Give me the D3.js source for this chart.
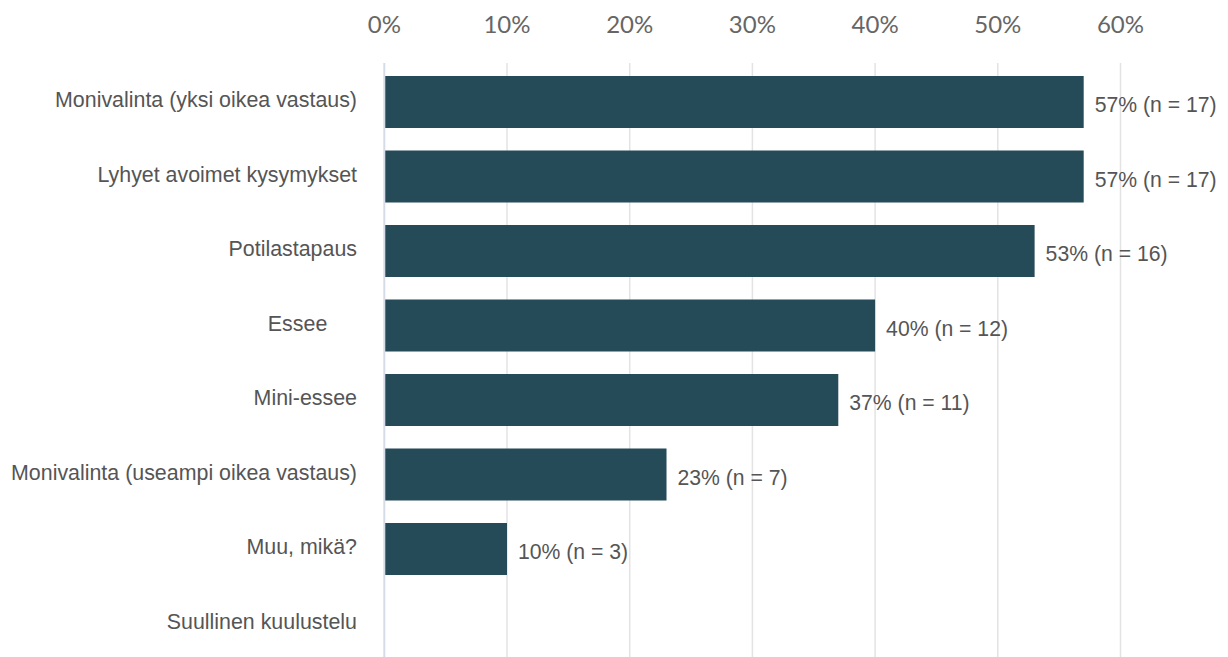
<!DOCTYPE html>
<html>
<head>
<meta charset="utf-8">
<script src="https://cdn.jsdelivr.net/npm/d3@7"></script>
<style>
  html, body { margin: 0; padding: 0; background: #fff; }
  svg { display: block; }
</style>
</head>
<body>
<div id="chart"></div>
<script>
// Data
const categories = [
  'Monivalinta (yksi oikea vastaus)',
  'Lyhyet avoimet kysymykset',
  'Potilastapaus',
  'Essee     ',
  'Mini-essee',
  'Monivalinta (useampi oikea vastaus)',
  'Muu, mikä?',
  'Suullinen kuulustelu'
];
const percents = [57, 57, 53, 40, 37, 23, 10, 0];
const counts = [17, 17, 16, 12, 11, 7, 3, 0];
const ticks = [0, 10, 20, 30, 40, 50, 60];

const width = 1228, height = 657;

const svg = d3.select('#chart').append('svg')
  .attr('width', width)
  .attr('height', height);

const x = d3.scaleLinear().domain([0, 60]).range([384.3, 1120.5]);

const step = 74.5;
const y = d3.scaleBand()
  .domain(categories)
  .range([64.75, 64.75 + step * categories.length])
  .paddingInner(0.302)
  .paddingOuter(0.151);

// gridlines
svg.append('g').selectAll('line')
  .data(ticks.filter(t => t > 0))
  .enter().append('line')
  .attr('x1', d => x(d)).attr('x2', d => x(d))
  .attr('y1', 63).attr('y2', height)
  .style('stroke', '#e3e3e3')
  .style('stroke-width', 1.5);

// top tick labels
svg.append('g').selectAll('text')
  .data(ticks)
  .enter().append('text')
  .attr('x', d => x(d))
  .attr('y', 33)
  .attr('text-anchor', 'middle')
  .style('font-family', 'Lato, sans-serif')
  .style('font-size', '24px')
  .style('fill', '#666')
  .text(d => d + '%');

// bars
svg.append('g').selectAll('rect')
  .data(categories)
  .enter().append('rect')
  .attr('x', x(0))
  .attr('y', d => y(d))
  .attr('width', (d, i) => x(percents[i]) - x(0))
  .attr('height', y.bandwidth())
  .style('fill', '#264b58')
  .style('display', (d, i) => percents[i] > 0 ? null : 'none');

// zero line
svg.append('line')
  .attr('x1', x(0)).attr('x2', x(0))
  .attr('y1', 63).attr('y2', height)
  .style('stroke', '#d5dce8')
  .style('stroke-width', 2);

// category labels
svg.append('g').selectAll('text')
  .data(categories)
  .enter().append('text')
  .attr('x', 357)
  .attr('y', d => y(d) + y.bandwidth() / 2 - 2)
  .attr('dy', '0.35em')
  .attr('text-anchor', 'end')
  .style('white-space', 'pre')
  .style('font-family', '"Liberation Sans", Arial, sans-serif')
  .style('font-size', '21.4px')
  .style('fill', '#555')
  .text(d => d);

// value labels
svg.append('g').selectAll('text')
  .data(categories)
  .enter().append('text')
  .attr('x', (d, i) => x(percents[i]) + 11)
  .attr('y', d => y(d) + y.bandwidth() / 2 + 3)
  .attr('dy', '0.35em')
  .style('font-family', '"Liberation Sans", Arial, sans-serif')
  .style('font-size', '21.2px')
  .style('fill', '#555')
  .style('display', (d, i) => percents[i] > 0 ? null : 'none')
  .text((d, i) => `${percents[i]}% (n = ${counts[i]})`);
</script>
</body>
</html>
